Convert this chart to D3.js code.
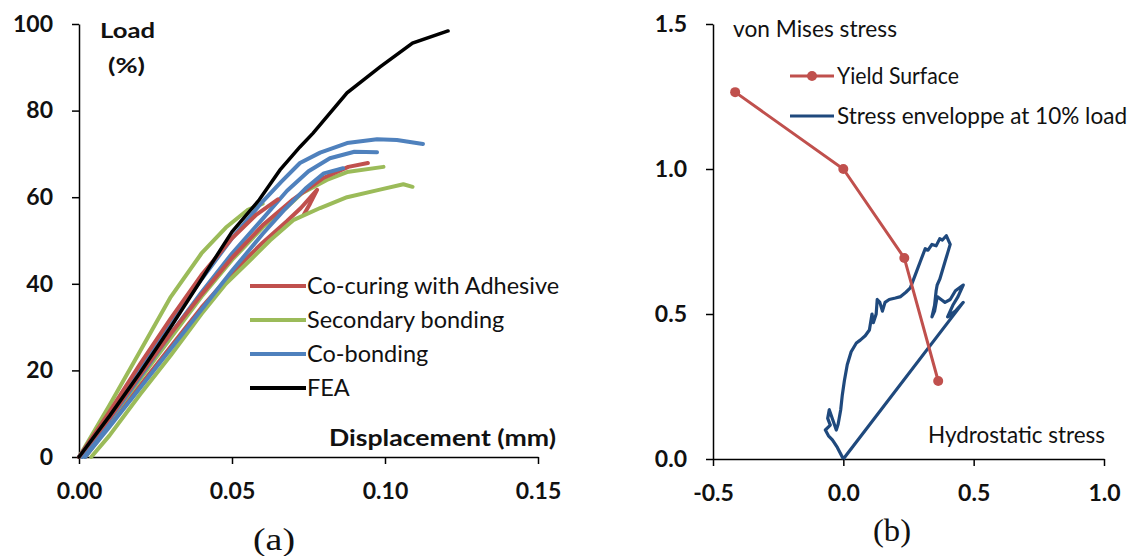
<!DOCTYPE html>
<html>
<head>
<meta charset="utf-8">
<script src="https://cdn.jsdelivr.net/npm/d3@7"></script>
<style>
  body { margin: 0; background: #fff; }
  svg text { font-family: Lato, "Open Sans", sans-serif; fill: #111; }
</style>
</head>
<body>
<div id="chart"></div>
<script>
// ---- (a) load vs displacement, [mm, %]
var coCuring = [
  [[0,0],[0.01,9],[0.02,19],[0.03,28.5],[0.04,37.5],[0.05,46],[0.06,53.5],[0.07,59.5],[0.08,64.5],[0.088,67],[0.0944,67.9]],
  [[0.002,0],[0.01,7.5],[0.02,16.5],[0.03,25.5],[0.04,34.5],[0.05,42.5],[0.06,49.5],[0.068,54.5],[0.0725,57.5],[0.0778,61.7],[0.0755,58.5],[0.0735,56]],
  [[0,0],[0.01,10.5],[0.02,21.5],[0.03,32],[0.04,42],[0.05,50.5],[0.058,56],[0.065,59.5]]
];
var secondary = [
  [[0,0],[0.01,12],[0.02,24.5],[0.03,37],[0.04,47],[0.048,53],[0.055,57],[0.06,58.5]],
  [[0.002,0],[0.01,8.5],[0.02,18],[0.03,27.5],[0.04,37],[0.05,45.5],[0.06,53],[0.068,57.7],[0.073,61],[0.081,64],[0.0876,65.8],[0.0995,67]],
  [[0.004,0],[0.01,5],[0.02,14.5],[0.03,23.5],[0.04,33],[0.048,40],[0.056,45.5],[0.0624,50],[0.07,54.7],[0.0788,57.5],[0.0876,60],[0.098,61.7],[0.106,63],[0.109,62.4]]
];
var coBonding = [
  [[0,0],[0.01,10],[0.02,20.5],[0.03,31],[0.04,41],[0.05,50.5],[0.06,59],[0.066,63.5],[0.0722,67.9],[0.0788,70.3],[0.0876,72.5],[0.0974,73.4],[0.1039,73.2],[0.1124,72.3]],
  [[0.001,0],[0.01,8.5],[0.02,18.5],[0.03,28.5],[0.04,38],[0.05,47],[0.06,55],[0.068,61.5],[0.075,66],[0.082,69],[0.09,70.5],[0.0974,70.4]],
  [[0.002,0],[0.01,7],[0.02,16],[0.03,25],[0.04,34],[0.05,43],[0.06,51.5],[0.067,57],[0.074,62],[0.08,65.5],[0.0863,66.7]]
];
var fea = [[0,0],[0.01,9.5],[0.02,19.5],[0.03,30],[0.04,41],[0.05,52],[0.0589,59.4],[0.0657,66.3],[0.0722,71.6],[0.0765,74.8],[0.0876,84.1],[0.0984,90.1],[0.109,95.6],[0.1206,98.4]];
var seriesNamesA = ["Co-curing with Adhesive", "Secondary bonding", "Co-bonding", "FEA"];
var xTicksA = [0, 0.05, 0.10, 0.15];
var yTicksA = [0, 20, 40, 60, 80, 100];

// ---- (b) von Mises vs hydrostatic stress
var yieldSurface = [[-0.415,1.265],[0,1.0],[0.234,0.693],[0.364,0.269]];
var stressEnvelope = [[0,0],[0.46,0.54],[0.43,0.51],[0.40,0.49],[0.42,0.53],[0.44,0.56],[0.46,0.60],[0.43,0.58],[0.41,0.55],
  [0.39,0.54],[0.375,0.55],[0.36,0.56],[0.35,0.51],[0.34,0.49],[0.35,0.53],[0.356,0.58],[0.36,0.60],[0.37,0.62],
  [0.39,0.68],[0.40,0.71],[0.41,0.74],[0.395,0.77],[0.38,0.755],[0.37,0.76],[0.356,0.735],[0.34,0.74],[0.325,0.72],
  [0.314,0.725],[0.295,0.68],[0.276,0.635],[0.257,0.59],[0.24,0.575],[0.22,0.56],[0.20,0.555],[0.176,0.55],[0.16,0.54],
  [0.15,0.51],[0.14,0.54],[0.13,0.55],[0.126,0.50],[0.115,0.47],[0.11,0.50],[0.10,0.445],[0.084,0.425],[0.065,0.41],
  [0.05,0.40],[0.03,0.37],[0.015,0.325],[0.004,0.27],[-0.004,0.22],[-0.01,0.17],[-0.02,0.12],[-0.027,0.10],[-0.054,0.17],
  [-0.06,0.14],[-0.05,0.117],[-0.069,0.10],[-0.057,0.08],[-0.042,0.066],[-0.023,0.04],[0,0]];
var seriesNamesB = ["Yield Surface", "Stress enveloppe at 10% load"];
var xTicksB = [-0.5, 0, 0.5, 1.0];
var yTicksB = [0, 0.5, 1.0, 1.5];

var colors = { red: "#C0504D", green: "#9BBB59", blue: "#4F81BD", black: "#000", navy: "#1F497D" };

var svg = d3.select("#chart").append("svg")
  .attr("width", 1131)
  .attr("height", 556);

// plain hyphen for negatives, like the original
var fmt1 = d => d3.format(".1f")(d).replace("\u2212", "-");

// stretched label helper: the picture is a bit wider than its glyphs
function label(g, x, y, txt, size, width, opts) {
  opts = opts || {};
  var t = g.append("text")
    .attr("x", x).attr("y", y)
    .attr("font-size", size)
    .attr("text-anchor", opts.anchor || "start")
    .text(txt);
  if (opts.bold) t.attr("font-weight", "bold");
  if (opts.serif) t.style("font-family", "'Liberation Serif', 'DejaVu Serif', serif");
  if (width) t.attr("textLength", width).attr("lengthAdjust", "spacingAndGlyphs");
  return t;
}

// ================= panel (a)
var xA = d3.scaleLinear().domain([0, 0.15]).range([79, 538]);
var yA = d3.scaleLinear().domain([0, 100]).range([457, 24]);

var gA = svg.append("g");

gA.append("g")
  .attr("transform", "translate(0," + yA(0) + ")")
  .call(d3.axisBottom(xA).tickValues(xTicksA).tickFormat(d3.format(".2f")).tickSize(7).tickSizeOuter(0).tickPadding(19));
gA.append("g")
  .attr("transform", "translate(" + xA(0) + ",0)")
  .call(d3.axisLeft(yA).tickValues(yTicksA).tickFormat(d3.format("d")).tickSize(7).tickSizeOuter(0).tickPadding(19));

var lineA = d3.line().x(d => xA(d[0])).y(d => yA(d[1]));

var groupsA = [
  { data: coCuring, color: colors.red },
  { data: secondary, color: colors.green },
  { data: coBonding, color: colors.blue },
  { data: [fea], color: colors.black }
];
// draw in a mixed order so no colour sits fully on top
[1, 0, 2].forEach(function(i) {
  groupsA.slice(0, 3).forEach(function(g) {
    if (!g.data[i]) return;
    gA.append("path")
      .attr("d", lineA(g.data[i]))
      .attr("fill", "none")
      .attr("stroke", g.color)
      .attr("stroke-width", 4)
      .attr("stroke-linejoin", "round")
      .attr("stroke-linecap", "round");
  });
});
gA.append("path")
  .attr("d", lineA(fea))
  .attr("fill", "none")
  .attr("stroke", colors.black)
  .attr("stroke-width", 3.5)
  .attr("stroke-linecap", "round");

// legend
groupsA.forEach(function(g, i) {
  var y = 286 + i * 34;
  gA.append("line")
    .attr("x1", 250).attr("x2", 306).attr("y1", y).attr("y2", y)
    .attr("stroke", g.color).attr("stroke-width", 4);
  gA.append("text")
    .attr("x", 307).attr("y", y + 8)
    .attr("font-size", 23.5)
    .text(seriesNamesA[i]);
});

label(gA, 100, 38, "Load", 21, 55, { bold: true });
label(gA, 108, 73, "(%)", 21, 37, { bold: true });
label(gA, 329, 446, "Displacement (mm)", 22, 227, { bold: true });
label(gA, 253, 550, "(a)", 32, 42, { serif: true });

// ================= panel (b)
var xB = d3.scaleLinear().domain([-0.5, 1.0]).range([713, 1104]);
var yB = d3.scaleLinear().domain([0, 1.5]).range([459, 24]);

var gB = svg.append("g");

gB.append("g")
  .attr("transform", "translate(0," + yB(0) + ")")
  .call(d3.axisBottom(xB).tickValues(xTicksB).tickFormat(fmt1).tickSize(7).tickSizeOuter(0).tickPadding(19));
gB.append("g")
  .attr("transform", "translate(" + xB(-0.5) + ",0)")
  .call(d3.axisLeft(yB).tickValues(yTicksB).tickFormat(fmt1).tickSize(7).tickSizeOuter(0).tickPadding(19));

var lineB = d3.line().x(d => xB(d[0])).y(d => yB(d[1]));

gB.append("path")
  .attr("d", lineB(stressEnvelope))
  .attr("fill", "none")
  .attr("stroke", colors.navy)
  .attr("stroke-width", 3.2)
  .attr("stroke-linejoin", "round");

gB.append("path")
  .attr("d", lineB(yieldSurface))
  .attr("fill", "none")
  .attr("stroke", colors.red)
  .attr("stroke-width", 3);
gB.selectAll(".ys").data(yieldSurface).enter().append("circle")
  .attr("class", "ys")
  .attr("cx", d => xB(d[0])).attr("cy", d => yB(d[1]))
  .attr("r", 5).attr("fill", colors.red);

// legend
[colors.red, colors.navy].forEach(function(c, i) {
  var y = 76 + i * 40;
  gB.append("line")
    .attr("x1", 790).attr("x2", 834).attr("y1", y).attr("y2", y)
    .attr("stroke", c).attr("stroke-width", 3);
  if (i === 0) {
    gB.append("circle").attr("cx", 812).attr("cy", y).attr("r", 5).attr("fill", c);
  }
  label(gB, 837, y + 8, seriesNamesB[i], 22.5, i === 0 ? 122 : 290);
});

label(gB, 733, 37, "von Mises stress", 22.5, 164);
label(gB, 928, 443, "Hydrostatic stress", 22.5, 177);
label(gB, 873, 541, "(b)", 32, 38, { serif: true });

// axis styling
svg.selectAll(".domain").attr("stroke", "#000").attr("stroke-width", 1.5);
svg.selectAll(".tick line").attr("stroke", "#000").attr("stroke-width", 1.5);
svg.selectAll(".tick text")
  .attr("font-size", 23)
  .attr("font-weight", "bold")
  .style("font-family", "Lato, 'Open Sans', sans-serif")
  .attr("fill", "#111");
</script>
</body>
</html>
